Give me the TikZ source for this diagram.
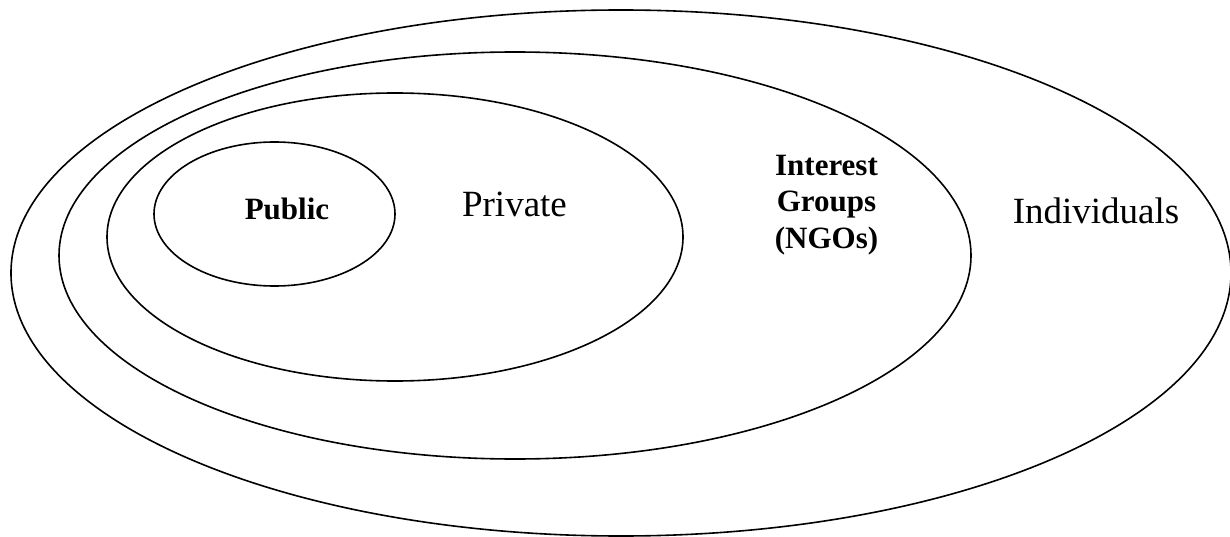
\documentclass[tikz,border=0pt]{standalone}
\usepackage{fontspec}
\setmainfont{Liberation Serif}
\usetikzlibrary{shapes.geometric}
\begin{document}
\begin{tikzpicture}[x=1pt, y=-1pt,
  ring/.style={draw=black, line width=1.6pt, ellipse, inner sep=0pt, fill=none},
  plainlabel/.style={anchor=base, inner sep=0pt, font=\fontsize{37}{44}\selectfont},
  boldlabel/.style={anchor=base, inner sep=0pt, align=center,
    font=\fontsize{31}{36.5}\selectfont\bfseries}]
  \useasboundingbox (0,0) rectangle (1230,537);
  % nested spheres of actors, outermost first
  \node[ring, minimum width=1220pt, minimum height=526pt] (individualsring) at (621,273) {};
  \node[ring, minimum width=912pt, minimum height=407pt] (groupsring) at (515,255.5) {};
  \node[ring, minimum width=576pt, minimum height=288pt] (privatering) at (395,237) {};
  \node[ring, minimum width=241pt, minimum height=144pt] (publicring) at (274.5,214) {};
  % labels (the three-line label is placed by its last baseline)
  \node[boldlabel] (public) at (287,219) {Public};
  \node[plainlabel] (private) at (514.5,217) {Private};
  \node[boldlabel] (groups) at (826.5,248) {Interest\\Groups\\(NGOs)};
  \node[plainlabel] (individuals) at (1096,224) {Individuals};
\end{tikzpicture}
\end{document}
